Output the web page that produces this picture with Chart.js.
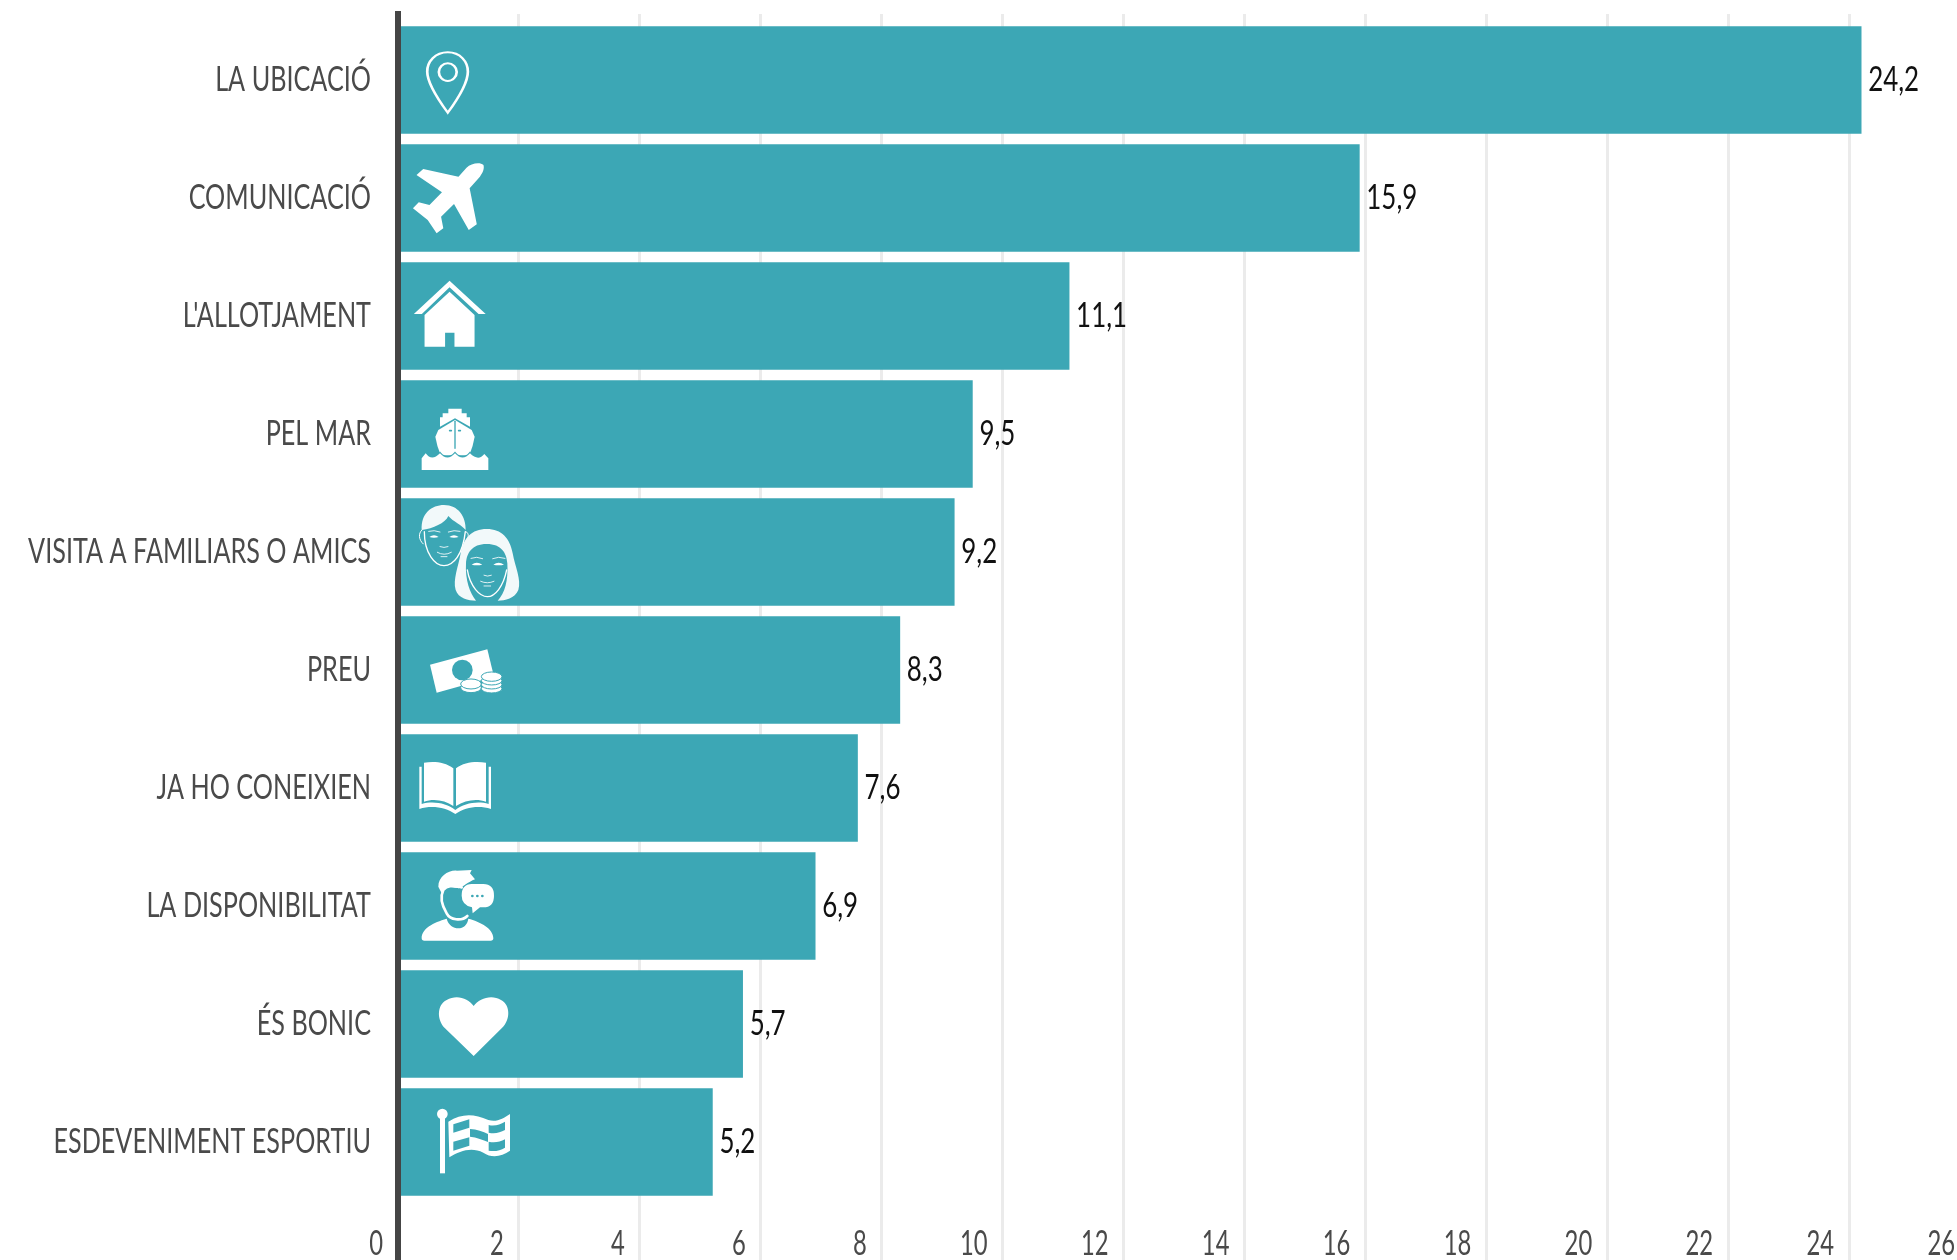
<!DOCTYPE html>
<html><head><meta charset="utf-8">
<style>html,body{margin:0;padding:0;background:#fff;overflow:hidden}#w{width:1957px;height:1260px;position:relative;overflow:hidden}</style>
<script src="https://cdn.jsdelivr.net/npm/chart.js@4/dist/chart.umd.min.js"></script>
</head><body><div id="w"><canvas id="c" width="1980" height="1260"></canvas></div>
<script>
const categories = ["LA UBICACIÓ","COMUNICACIÓ","L'ALLOTJAMENT","PEL MAR","VISITA A FAMILIARS O AMICS","PREU","JA HO CONEIXIEN","LA DISPONIBILITAT","ÉS BONIC","ESDEVENIMENT ESPORTIU"];
const values = [24.2,15.9,11.1,9.5,9.2,8.3,7.6,6.9,5.7,5.2];
const valueLabels = ["24,2","15,9","11,1","9,5","9,2","8,3","7,6","6,9","5,7","5,2"];
const xTicks = [0,2,4,6,8,10,12,14,16,18,20,22,24,26];

const TEAL='#3ca7b5', INK='#4a4a4a', WHITE='#ffffff';
// Icon artwork, in crop coordinates; each layer: [mode, svgPath, colour, lineWidth]
const wide={sx:1/2.24,sy:1/3,ox:0,oy:0}, z4={sx:1/3,sy:1/3,ox:390,oy:390}, z5={sx:1/3,sy:1/3,ox:390,oy:730};
const icons=[
 {t:wide,layers:[
  ['s','M1003 157C975 157 957 185 957 215C957 250 985 305 1003 338C1021 305 1048 250 1048 215C1048 185 1031 157 1003 157Z',WHITE,6],
  ['s','M1003 190C992 190 983 202 983 216C983 230 992 243 1003 243C1014 243 1023 230 1023 216C1023 202 1014 190 1003 190Z',WHITE,6]]},
 {t:wide,layers:[['f','M1083 495C1075 485 1055 490 1045 503L1027 530L948 507L933 525L990 577L962 615L938 607L925 625L958 660L978 700L993 685L988 650L1017 612L1050 690L1068 673L1052 565L1075 530C1083 515 1085 505 1083 495Z',WHITE]]},
 {t:wide,layers:[['f','M1007 842L1088 942L1072 942L1007 862L945 942L927 942Z',WHITE],['f','M1007 875L1063 945L1063 1040L1018 1040L1018 998L997 998L997 1040L951 1040L951 945Z',WHITE]]},
 {t:z4,layers:[
  ['f','M175 70V56H215V70H230V82H240V110L195 85L150 110V82H158V70Z',WHITE],
  ['f','M195 90L245 120L254 140Q250 165 238 196H152Q140 165 136 140L145 120Z',WHITE],
  ['s','M195 94V175',TEAL,4],['s','M179 122H184M206 122H211',TEAL,5],
  ['s','M95 205L107 190Q125 215 150 190Q172 215 195 190Q218 215 240 190Q265 215 283 192L295 205',TEAL,7],
  ['f','M95 240V205L107 190Q125 215 150 190Q172 215 195 190Q218 215 240 190Q265 215 283 192L295 205V240Z',WHITE]]},
 {t:z4,layers:[
  ['f','M95 420C92 370 125 345 162 345C205 345 228 380 227 420C215 405 190 395 175 378C165 400 130 415 95 420Z','#f2f9fa'],
  ['s','M103 425C103 490 135 527 162 527C190 527 218 495 226 425',WHITE,4],
  ['s','M96 420C84 430 86 450 100 462M228 425C238 430 236 442 230 448',WHITE,3],
  ['s','M116 424Q132 419 150 426M175 426Q192 419 210 424M150 470Q162 475 174 470M142 487Q162 499 184 487M153 500H171',WHITE,2.5],
  ['f','M118 441Q132 431 146 441Q132 445 118 441ZM178 441Q192 431 206 441Q192 445 178 441Z',WHITE],
  ['f','M290 417C335 417 360 445 368 490C375 530 395 570 385 600C375 625 345 632 323 632C345 610 355 570 352 520C350 490 335 462 290 462C245 462 230 490 228 520C225 570 240 610 258 632C235 632 205 625 197 600C188 570 205 530 212 490C220 445 245 417 290 417Z','#f2f9fa'],
  ['s','M232 540C240 590 270 620 292 620C315 620 340 590 350 540',WHITE,4],
  ['s','M243 505Q260 498 278 506M308 506Q325 498 345 505M282 556Q292 561 304 556M272 574Q292 583 312 574M282 588H302',WHITE,2.5],
  ['f','M245 524Q260 512 277 524Q260 528 245 524ZM310 524Q326 512 342 524Q326 528 310 524Z',WHITE]]},
 {t:z4,layers:[
  ['f','M120 824L292 778L312 860L140 908Z',WHITE],
  ['f','M248 840A31 31 0 1 1 186 840A31 31 0 1 1 248 840Z',TEAL],
  ['e',243,893,31,15],['e',243,882,31,15],
  ['e',305,896,31,13],['e',305,884,31,13],['e',305,872,31,13],['e',305,860,31,14]]},
 {t:z5,layers:[
  ['f','M102 98C130 93 165 95 190 115V228C165 210 130 205 102 215Z',WHITE],
  ['f','M198 115C222 95 260 93 288 98V215C260 205 225 210 198 228Z',WHITE],
  ['f','M88 110H95V222C130 212 170 220 196 240C222 220 262 212 296 222V110H303V237C265 225 225 232 196 252C167 232 125 225 88 237Z',WHITE]]},
 {t:z5,layers:[
  ['f','M95 625C95 595 130 578 170 566C175 585 190 595 205 595C220 595 232 585 235 566C270 575 310 595 310 625Q310 632 302 632H103Q95 632 95 625Z',WHITE],
  ['s','M215 472C195 470 175 462 160 480C150 500 155 525 170 550C180 570 215 575 232 558',WHITE,8],
  ['f','M145 470C145 440 175 420 200 422L245 420L240 430L255 448C235 455 215 475 205 475C190 470 165 465 155 490Z',WHITE],
  ['f','M245 462H280Q312 462 312 497Q312 532 280 532H270L248 550L246 532Q215 525 215 497Q215 462 245 462Z',WHITE],
  ['s','M247 498h.1M262 498h.1M277 498h.1',TEAL,8]]},
 {t:z5,layers:[['f','M251 978L165 895C140 870 140 825 170 810C200 792 235 805 251 828C267 805 305 792 333 810C362 825 362 870 335 895Z',WHITE]]},
 {t:z5,layers:[
  ['f','M150 1150H165V1330H150Z',WHITE],['e',157,1152,16,16],
  ['f','M175 1175C215 1150 250 1150 295 1170C320 1178 340 1165 360 1152V1262C335 1280 305 1285 280 1268C245 1250 210 1262 178 1282Z',WHITE],
  ['f','M190 1183L238 1168V1193L190 1208Z',TEAL],['f','M296 1185C315 1190 330 1183 345 1175V1200C330 1208 315 1212 296 1208Z',TEAL],
  ['f','M190 1235L238 1222V1247L190 1262Z',TEAL],['f','M296 1235C315 1240 330 1235 345 1228V1253C330 1262 315 1265 296 1262Z',TEAL],
  ['f','M240 1197C260 1198 280 1205 294 1212V1236C280 1230 260 1222 240 1220Z',TEAL]]}
];
const iconCenters=values.map((_,i)=>80+118*i);

function squeezed(ctx,text,x,y,align,sx,color){
  ctx.save();ctx.translate(x,y);ctx.scale(sx,1);ctx.textAlign=align;ctx.textBaseline='alphabetic';
  ctx.fillStyle=color;ctx.font='35px Lato';ctx.fillText(text,0,0);ctx.restore();
}
const overlay={id:'overlay',afterDraw(chart){
  const {ctx,scales:{x,y}}=chart;
  xTicks.forEach(t=>squeezed(ctx,String(t),x.getPixelForValue(t)-15,1255,'right',0.68,INK));
  categories.forEach((c,i)=>{
    const yc=y.getPixelForValue(i);
    squeezed(ctx,c,371,yc+11.5,'right',0.72,INK);
    squeezed(ctx,valueLabels[i],x.getPixelForValue(values[i])+7,yc+11,'left',0.74,'#111');
    const ic=icons[i],t=ic.t;
    ctx.save();ctx.translate(0,yc-iconCenters[i]);
    ctx.translate(t.ox,t.oy);ctx.scale(t.sx,t.sy);
    ic.layers.forEach(l=>{
      if(l[0]==='e'){
        ctx.beginPath();ctx.ellipse(l[1],l[2],l[3],l[4],0,0,Math.PI*2);
        ctx.fillStyle=WHITE;ctx.fill();
        if(l[4]<16||l[3]>16){ctx.strokeStyle=TEAL;ctx.lineWidth=3;ctx.stroke();}
      }else{
        const p=new Path2D(l[1]);
        if(l[0]==='f'){ctx.fillStyle=l[2];ctx.fill(p);}
        else{ctx.strokeStyle=l[2];ctx.lineWidth=l[3];ctx.lineCap='round';ctx.stroke(p);}
      }
    });
    ctx.restore();
  });
}};
new Chart(document.getElementById('c'),{
  type:'bar',
  data:{datasets:[{data:values.map((v,i)=>({x:v,y:i})),backgroundColor:TEAL,barThickness:107,borderWidth:0}]},
  options:{
    indexAxis:'y',responsive:false,animation:false,
    layout:{padding:{top:14,bottom:0,left:0,right:10}},
    plugins:{legend:{display:false},tooltip:{enabled:false},title:{display:false}},
    scales:{
      x:{type:'linear',position:'bottom',min:0,max:26,afterBuildTicks(s){s.ticks=xTicks.map(v=>({value:v}));},
         ticks:{display:false},border:{display:false},
         grid:{color:'#ebebeb',lineWidth:3,drawTicks:false},afterFit(s){s.height=0;}},
      y:{type:'linear',position:'left',reverse:true,min:-0.559,max:10,offset:false,
         ticks:{display:false},grid:{display:false,offset:false},
         border:{display:true,color:'#454545',width:6,z:1},afterFit(s){s.width=398;}}
    }
  },
  plugins:[overlay]
});
</script></body></html>
